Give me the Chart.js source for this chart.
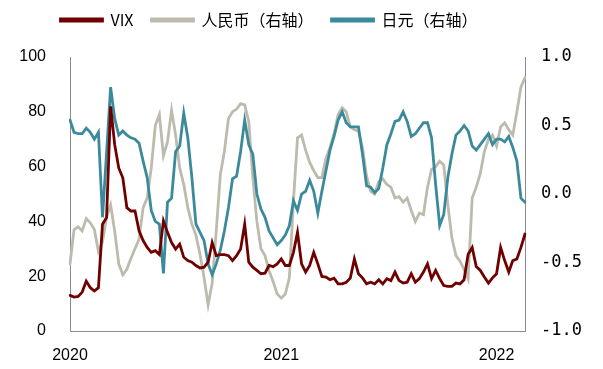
<!DOCTYPE html>
<html>
<head>
<meta charset="utf-8">
<script src="https://cdn.jsdelivr.net/npm/chart.js@4.4.0/dist/chart.umd.min.js"></script>
<style>
  html, body { margin: 0; padding: 0; background: #fff; }
  #wrap { width: 603px; height: 369px; }
</style>
</head>
<body>
<div id="wrap"><canvas id="chart"></canvas></div>
<script>
// weekly readings, first week ends 2020-01-03
const vix = [
  13.0, 12.4, 12.6, 14.2, 18.2, 15.8, 14.6, 15.8, 39.0, 41.4,
  82.0, 68.0, 59.5, 55.9, 45.0, 43.8, 43.8, 36.6, 33.0, 30.5,
  28.7, 29.3, 27.9, 40.2, 36.0, 32.3, 29.9, 31.7, 26.9, 25.7,
  25.1, 23.9, 23.0, 23.3, 25.1, 32.3, 27.5, 27.9, 27.9, 27.5,
  25.7, 27.5, 29.9, 39.0, 25.1, 23.3, 22.1, 20.9, 21.1, 23.9,
  23.5, 24.5, 26.3, 23.9, 23.9, 28.7, 36.0, 24.5, 21.5, 23.9,
  28.7, 24.5, 19.9, 19.7, 18.7, 19.3, 17.2, 17.2, 17.8, 19.3,
  26.3, 20.9, 19.4, 17.2, 17.8, 17.2, 18.7, 17.2, 19.1, 18.4,
  21.5, 18.4, 17.5, 17.8, 20.9, 17.8, 19.1, 21.5, 24.5, 19.1,
  22.1, 19.1, 16.6, 16.3, 16.3, 17.5, 17.2, 18.7, 28.0, 30.5,
  23.5, 22.1, 19.7, 17.5, 19.4, 20.9, 30.5, 25.7, 21.5, 25.7,
  26.3, 30.5, 35.4
];

const cny = [
  -0.51, -0.26, -0.24, -0.27, -0.18, -0.21, -0.26, -0.42, -0.35, -0.17,
  -0.08, -0.27, -0.51, -0.59, -0.55, -0.47, -0.40, -0.33, -0.10, -0.03,
  0.19, 0.50, 0.58, 0.28, 0.38, 0.61, 0.43, 0.19, 0.07, -0.10,
  -0.22, -0.30, -0.44, -0.61, -0.81, -0.65, -0.27, 0.14, 0.31, 0.55,
  0.60, 0.62, 0.66, 0.65, 0.53, 0.12, -0.20, -0.40, -0.45, -0.56,
  -0.64, -0.73, -0.76, -0.73, -0.61, -0.05, 0.41, 0.43, 0.32, 0.23,
  0.17, 0.12, 0.12, 0.26, 0.34, 0.44, 0.58, 0.63, 0.60, 0.49,
  0.47, 0.46, 0.34, 0.13, 0.02, 0.00, 0.09, 0.11, 0.07, 0.05,
  -0.03, -0.02, -0.06, -0.03, -0.12, -0.20, -0.14, -0.15, 0.05, 0.18,
  0.20, 0.24, 0.21, -0.08, -0.32, -0.45, -0.49, -0.55, -0.62, -0.03,
  0.05, 0.15, 0.31, 0.40, 0.43, 0.35, 0.49, 0.52, 0.47, 0.43,
  0.60, 0.78, 0.85
];

const jpy = [
  0.54, 0.45, 0.44, 0.44, 0.48, 0.45, 0.40, 0.45, -0.17, 0.30,
  0.78, 0.55, 0.43, 0.46, 0.43, 0.41, 0.40, 0.37, 0.24, 0.12,
  -0.12, -0.20, -0.22, -0.58, -0.06, -0.03, 0.31, 0.35, 0.59, 0.41,
  0.12, -0.22, -0.28, -0.34, -0.51, -0.59, -0.51, -0.41, -0.27, -0.10,
  0.11, 0.13, 0.31, 0.54, 0.36, 0.29, 0.00, -0.11, -0.17, -0.27,
  -0.32, -0.37, -0.34, -0.30, -0.23, -0.05, -0.12, 0.00, 0.02, 0.10,
  0.02, -0.14, 0.02, 0.17, 0.32, 0.42, 0.54, 0.60, 0.52, 0.49,
  0.49, 0.49, 0.29, 0.06, 0.05, 0.01, 0.04, 0.19, 0.36, 0.44,
  0.53, 0.54, 0.60, 0.53, 0.42, 0.44, 0.48, 0.52, 0.52, 0.41,
  0.07, -0.23, -0.15, 0.12, 0.29, 0.43, 0.46, 0.50, 0.46, 0.35,
  0.32, 0.36, 0.40, 0.44, 0.36, 0.40, 0.40, 0.38, 0.42, 0.34,
  0.24, -0.03, -0.06
];

const seriesNames = ['VIX', '人民币（右轴）', '日元（右轴）'];
const yearLabels = ['2020', '2021', '2022'];

// one label per week
const weeks = vix.map((_, i) => new Date(Date.UTC(2020, 0, 3 + i * 7)).toISOString().slice(0, 10));
// first week of each year gets the year tick
const yearIdx = yearLabels.map(y => weeks.findIndex(w => w.startsWith(y)));

const axisColor = '#8c8c8c';
const tickFont = { family: 'Liberation Sans', size: 16 };

// legend sits a bit left of centre and leaves a gap above the plot
const legendTweak = {
    id: 'legendTweak',
    afterInit(chart) {
        const fit = chart.legend.fit;
        chart.legend.fit = function () {
            fit.call(this);
            this.height += 19;
        };
    },
    afterLayout(chart) {
        chart.legend.right -= 65;
    }
};

function initChart() {
    const ctx = document.getElementById('chart').getContext('2d');
    new Chart(ctx, {
        type: 'line',
        data: {
            labels: weeks,
            datasets: [
                {
                    label: seriesNames[0],
                    data: vix,
                    yAxisID: 'y',
                    borderColor: '#700000',
                    backgroundColor: '#700000',
                    order: 0
                },
                {
                    label: seriesNames[1],
                    data: cny,
                    yAxisID: 'y1',
                    borderColor: '#bdbbad',
                    backgroundColor: '#bdbbad',
                    order: 2
                },
                {
                    label: seriesNames[2],
                    data: jpy,
                    yAxisID: 'y1',
                    borderColor: '#3b8a9c',
                    backgroundColor: '#3b8a9c',
                    order: 1
                }
            ]
        },
        options: {
            responsive: true,
            maintainAspectRatio: false,
            animation: false,
            elements: {
                point: { radius: 0 },
                line: { borderWidth: 2.8, tension: 0, borderCapStyle: 'round' }
            },
            layout: { padding: { top: -6, right: 0, left: 0, bottom: 0 } },
            plugins: {
                legend: {
                    position: 'top',
                    labels: {
                        boxWidth: 42,
                        boxHeight: 2,
                        padding: 18,
                        color: '#000',
                        font: { family: 'Noto Sans CJK SC', size: 16 },
                        sort: (a, b) => a.datasetIndex - b.datasetIndex
                    }
                },
                tooltip: { enabled: false }
            },
            scales: {
                x: {
                    type: 'category',
                    grid: { display: false, drawTicks: false },
                    border: { display: true, color: axisColor, width: 1 },
                    ticks: {
                        autoSkip: false,
                        maxRotation: 0,
                        padding: 15,
                        color: '#000',
                        font: tickFont,
                        callback: function (value) {
                            return this.getLabelForValue(value).slice(0, 4);
                        }
                    },
                    afterBuildTicks: axis => {
                        axis.ticks = axis.ticks.filter(t => yearIdx.includes(t.value));
                    },
                    afterFit: s => { s.height = 38; }
                },
                y: {
                    position: 'left',
                    min: 0,
                    max: 100,
                    grid: { display: false, drawTicks: false },
                    border: { display: true, color: axisColor, width: 1 },
                    ticks: { stepSize: 20, padding: 24, color: '#000', font: tickFont },
                    afterFit: s => { s.width = 70; }
                },
                y1: {
                    position: 'right',
                    min: -1,
                    max: 1,
                    grid: { display: false, drawTicks: false },
                    border: { display: true, color: axisColor, width: 1 },
                    ticks: {
                        stepSize: 0.5,
                        padding: 16,
                        color: '#000',
                        font: { family: 'DejaVu Sans Mono', size: 17 },
                        callback: v => v.toFixed(1)
                    },
                    afterFit: s => { s.width = 78; }
                }
            }
        },
        plugins: [legendTweak]
    });
}

initChart();
</script>
</body>
</html>
